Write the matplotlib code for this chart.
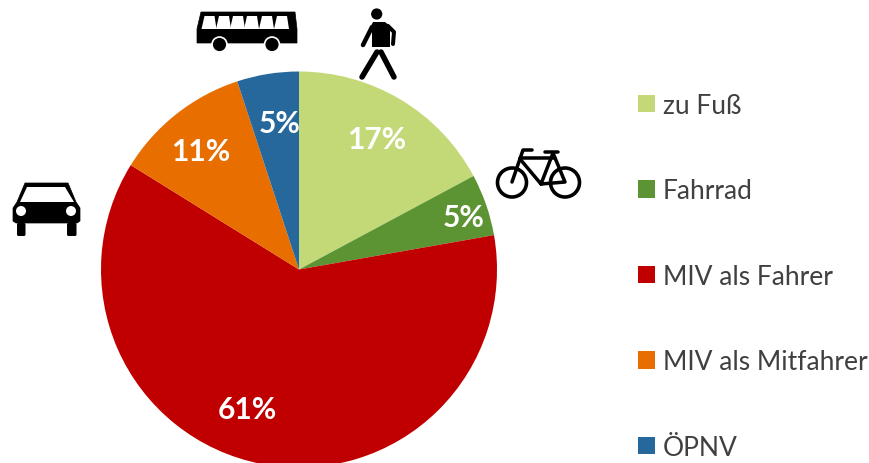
import matplotlib
matplotlib.use("Agg")
import matplotlib.pyplot as plt
from matplotlib.patches import Circle, Polygon, FancyBboxPatch

# Modal split: share of trips per mode of transport, in percent
modes = ["zu Fuß", "Fahrrad", "MIV als Fahrer", "MIV als Mitfahrer", "ÖPNV"]
shares = [17, 5, 61, 11, 5]
colors = ["#C3D977", "#5C9433", "#C00000", "#E86E00", "#27689C"]

W, H = 870, 464
CX, CY, R = 299, 270.5, 198

# Pixel anchors for the percentage labels, one per wedge
label_xy = [(377, 140), (464, 218), (247, 410), (201, 152), (280, 124)]

plt.rcParams["font.family"] = ["Lato", "DejaVu Sans"]
fig = plt.figure(figsize=(W / 100, H / 100), dpi=100, facecolor="white")

ax = fig.add_axes([0, 0, 1, 1])
wedges, _ = ax.pie(shares, colors=colors, startangle=90, counterclock=False,
                   center=(CX, H - CY), radius=R, frame=False)
ax.set_xlim(0, W)
ax.set_ylim(0, H)
ax.set_aspect("equal")
ax.axis("off")

for s, (x, y) in zip(shares, label_xy):
    ax.text(x, H - y, f"{s}%", color="white", fontsize=21.5, fontweight="bold",
            ha="center", va="center")

ax.legend(wedges, modes, loc="upper left", bbox_to_anchor=(638 / W, 1 - 94 / H),
          bbox_transform=fig.transFigure, frameon=False, fontsize=19,
          handlelength=0.64, handleheight=0.64, handletextpad=0.3,
          labelspacing=2.29, borderaxespad=0, borderpad=0,
          labelcolor="#404040")

# Pictograms, laid out in pixel coordinates with y pointing down
ic = fig.add_axes([0, 0, 1, 1], facecolor="none")
ic.set_xlim(0, W)
ic.set_ylim(H, 0)
ic.axis("off")

def strokes(points, width):
    xs, ys = zip(*points)
    ic.plot(xs, ys, color="black", lw=width * 0.72, solid_capstyle="round",
            solid_joinstyle="round")

# Bus
ic.add_patch(Polygon([(201, 13), (295, 13), (297, 30), (297, 44), (197, 44), (197, 30)],
                     closed=True, fc="black", ec="black", lw=0.5, joinstyle="round"))
for x0 in (203.5, 218, 232, 246, 261, 276):
    ic.add_patch(Polygon([(x0 + 1, 17), (x0 + 11, 17), (x0 + 13, 30), (x0 - 2, 30)],
                         closed=True, fc="white", ec="none"))
for x0 in (219.5, 272):
    ic.add_patch(Circle((x0, 45.5), 8.3, fc="white", ec="none", zorder=3))
    ic.add_patch(Circle((x0, 45.5), 6.6, fc="black", ec="none", zorder=4))

# Pedestrian
ic.add_patch(Circle((376.7, 15), 5.6, fc="black", ec="none"))
ic.add_patch(Polygon([(373, 23), (385, 23), (390, 27), (390, 48), (372, 48), (372, 34),
                      (371, 27)], closed=True, fc="black", ec="none"))
strokes([(372, 28), (363, 46)], 4.5)
strokes([(388, 27), (394, 33), (393, 45)], 4)
strokes([(377, 53), (362, 78)], 5.5)
strokes([(381, 53), (394, 78)], 5.5)

# Bicycle
for x0 in (512, 565):
    ic.add_patch(Circle((x0, 183.5), 14.5, fc="none", ec="black", lw=2.6))
strokes([(532, 151), (523, 151), (512, 183)], 3.5)
strokes([(520, 159), (555, 159)], 3.5)
strokes([(520, 160), (541, 185), (565, 183), (553, 154), (541, 185)], 3.5)
strokes([(545, 153), (558, 153)], 3.5)

# Car
ic.add_patch(Polygon([(25, 184), (68, 184), (76, 203), (80, 209), (80, 222), (77, 224),
                      (16, 224), (13, 222), (13, 209), (17, 203)],
                     closed=True, fc="black", ec="black", lw=0.5, joinstyle="round"))
ic.add_patch(Polygon([(20, 203), (27, 188), (65, 188), (74, 203)], closed=True,
                     fc="white", ec="none"))
for x0 in (21, 71):
    ic.add_patch(Circle((x0, 212), 5, fc="white", ec="none"))
ic.add_patch(FancyBboxPatch((17, 224), 8.5, 13, boxstyle="round,pad=0,rounding_size=1.5",
                            fc="black", ec="none"))
ic.add_patch(FancyBboxPatch((67, 224), 9.5, 13, boxstyle="round,pad=0,rounding_size=1.5",
                            fc="black", ec="none"))

fig.savefig("out.png", dpi=100, facecolor="white")
